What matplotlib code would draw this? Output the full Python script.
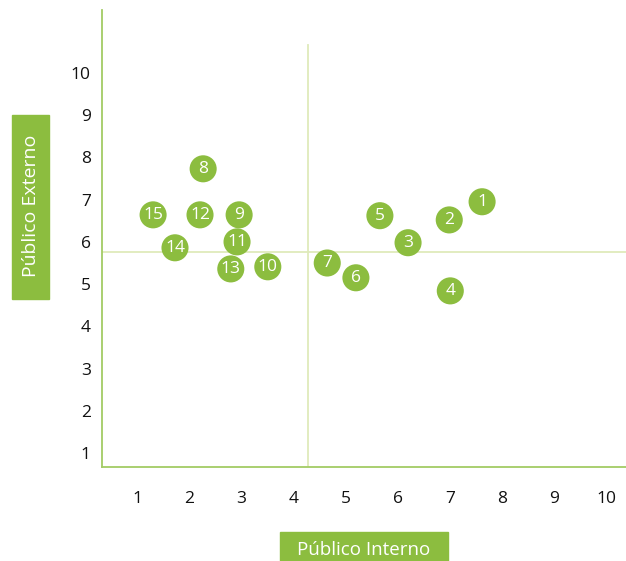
import matplotlib
matplotlib.use("Agg")
import matplotlib.pyplot as plt
from matplotlib.patches import Rectangle

# ---------------------------------------------------------------------
#                              data
# ---------------------------------------------------------------------
labels = ["1", "2", "3", "4", "5", "6", "7", "8", "9", "10",
          "11", "12", "13", "14", "15"]
interno = [7.62, 6.99, 6.20, 7.01, 5.66, 5.20, 4.65, 2.27, 2.96, 3.51,
           2.92, 2.21, 2.80, 1.73, 1.31]
externo = [6.95, 6.52, 5.98, 4.84, 6.62, 5.15, 5.50, 7.73, 6.64, 5.41,
           6.00, 6.64, 5.36, 5.86, 6.64]

ticks = list(range(1, 11))
x_split = 4.28          # vertical quadrant divider
y_split = 5.76          # horizontal quadrant divider
x_split_top = 10.66     # vertical divider stops here

GREEN = "#8cbd3f"
SPINE = "#a3cc65"
QUAD = "#dfeabb"
FONT = "Open Sans"

plt.rcParams["font.family"] = [FONT, "DejaVu Sans"]

fig = plt.figure(figsize=(6.26, 5.61), dpi=100)
ax = fig.add_axes([102 / 626, 1 - 467 / 561, 1 - 102 / 626, (467 - 10) / 561])

ax.set_xlim(0.33, 10.38)
ax.set_ylim(0.67, 11.49)

# quadrant lines
ax.plot([x_split, x_split], [0.67, x_split_top], color=QUAD, lw=1.3, zorder=1)
ax.axhline(y_split, color=QUAD, lw=1.3, zorder=1)

# bubbles
ax.scatter(interno, externo, s=380, color=GREEN, edgecolors="none", zorder=3)
for lab, xv, yv in zip(labels, interno, externo):
    ax.text(xv, yv, lab, color="white", fontsize=12.5,
            ha="center", va="center", zorder=4)

# axes styling
for side in ("top", "right"):
    ax.spines[side].set_visible(False)
for side in ("left", "bottom"):
    ax.spines[side].set_color(SPINE)
    ax.spines[side].set_linewidth(1.3)

ax.set_xticks(ticks)
ax.set_yticks(ticks)
ax.set_xticklabels([str(t) for t in ticks])
ax.set_yticklabels([str(t) for t in ticks])
ax.tick_params(axis="x", length=0, pad=17, labelsize=12.5, colors="#111111")
ax.tick_params(axis="y", length=0, pad=8, labelsize=12.5, colors="#111111")

# green label boxes
fig.patches.append(Rectangle((12 / 626, 1 - 299 / 561), 37 / 626, 184 / 561,
                             transform=fig.transFigure, color=GREEN, zorder=0))
fig.text(30.5 / 626, 1 - 206 / 561, "Público Externo", color="white",
         fontsize=14, rotation=90, ha="center", va="center")

fig.patches.append(Rectangle((280 / 626, 0), 168 / 626, 29 / 561,
                             transform=fig.transFigure, color=GREEN, zorder=0))
fig.text(364 / 626, 1 - 550 / 561, "Público Interno", color="white",
         fontsize=13.5, ha="center", va="center")

fig.savefig("out.png", dpi=100)
